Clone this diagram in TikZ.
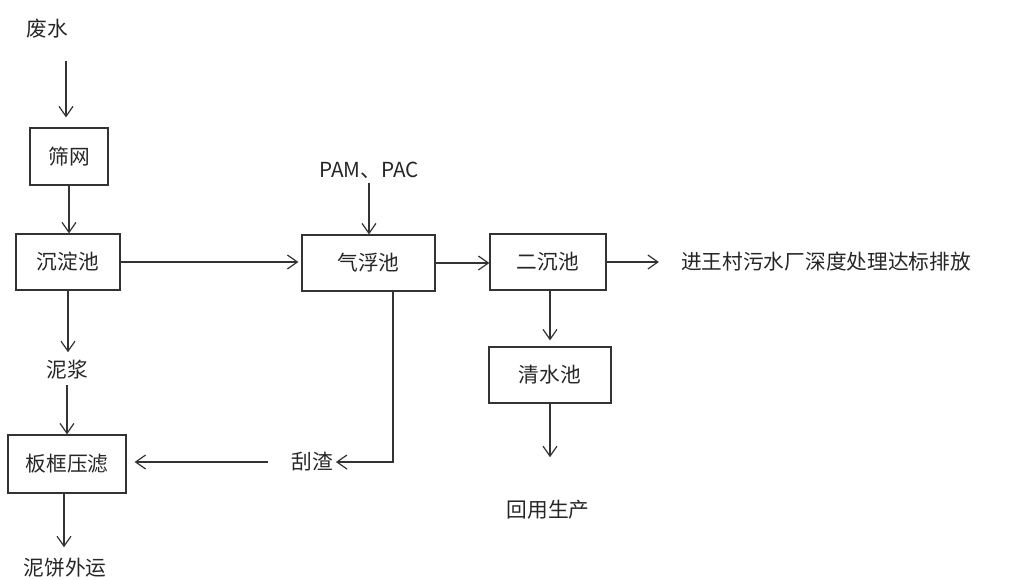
\documentclass[tikz,border=0pt]{standalone}
\usepackage{fontspec}
\setmainfont{Noto Sans CJK SC}
\usetikzlibrary{arrows.meta}

\begin{document}
\begin{tikzpicture}[x=1pt,y=-1pt,
		font=\fontsize{20.7pt}{24pt}\selectfont,
		box/.style={draw=black!80,line width=1.2pt,text=black!85},
		txt/.style={inner sep=0pt,text=black!85},
		line/.style={draw=black!80,line width=1.2pt,-{Straight Barb[length=10pt,width=14pt,line width=1.2pt]}}]
		\useasboundingbox (0,0) rectangle (1009,579);
		% boxes
		\foreach \n/\x/\y/\w/\h/\t in
		{
			sw/69/156.5/78/57/筛网, cdc/68/262/104/56/沉淀池,
			qfc/368.5/263/133/56/气浮池, ecc/548/262/116/56/二沉池,
			qsc/550/375/122/56/清水池, bk/67/464/118/58/板框压滤
		}
		{
			\node[box,minimum width=\w pt,minimum height=\h pt] (\n) at (\x,\y) {\t};
		}
		% texts
		\foreach \n/\x/\y/\t in
		{
			fs/47/29/废水, pam/369/170/PAM、PAC, nj/67/370/泥浆,
			gz/312/462/刮渣, nb/65/568/泥饼外运,
			jw/826/262/进王村污水厂深度处理达标排放, hy/548/510/回用生产
		}
		{
			\node[txt] (\n) at (\x,\y) {\t};
		}
		% connectors
		\draw[line,shorten <=22pt,shorten >=10pt] ([xshift=-3pt]fs.south -| sw) -- ([xshift=-3pt]sw.north);
		\draw[line] (sw.south) -- (sw.south |- cdc.north);
		\draw[line,shorten >=3pt] (cdc.east) -- (cdc.east -| qfc.west);
		\draw[line,shorten <=4pt] (pam.south) -- (pam.south |- qfc.north);
		\draw[line,shorten >=8pt] (cdc.south) -- (cdc.south |- nj.north);
		\draw[line,shorten <=5pt] (nj.south) -- (nj.south |- bk.north);
		\draw[line,shorten >=11pt] ([xshift=-3pt]bk.south) -- ([xshift=-3pt]bk.south |- nb.north);
		\draw[line,shorten >=3pt] ([xshift=24.5pt]qfc.south) |- (gz.east);
		\draw[line,shorten <=23pt,shorten >=8pt] (gz.west) -- (gz.west -| bk.east);
		\draw[line] (qfc.east) -- (qfc.east -| ecc.west);
		\draw[line,shorten >=22pt] (ecc.east) -- (ecc.east -| jw.west);
		\draw[line,shorten >=6pt] ([xshift=2pt]ecc.south) -- ([xshift=2pt]ecc.south |- qsc.north);
		\draw[line,shorten >=43pt] (qsc.south) -- (qsc.south |- hy.north);
\end{tikzpicture}
\end{document}
